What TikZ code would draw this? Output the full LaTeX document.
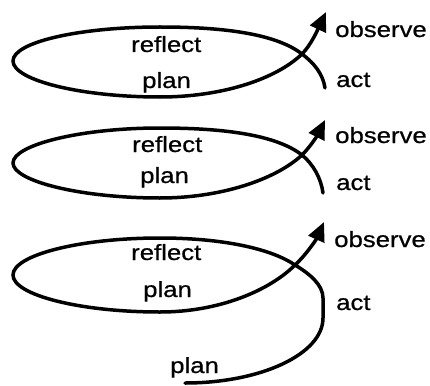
\documentclass[tikz,border=0pt]{standalone}
\usepackage{fontspec}
\setmainfont{Liberation Sans}[FakeBold=0.6]
\usepackage{graphicx}
\usetikzlibrary{arrows.meta}
\newcommand{\widetxt}[1]{\scalebox{1.17}[1]{#1}}
\begin{document}
\begin{tikzpicture}[x=1pt,y=1pt,
  lw/.style={line width=3.5pt, line cap=round},
  tip/.style={-{Triangle[length=19pt,width=17pt]}},
  lbl/.style={font=\fontsize{22}{26}\selectfont, inner sep=0pt, anchor=base west}]
\useasboundingbox (0,0) rectangle (430,-385);
% ---------- loop 1
\coordinate (a1) at (325,-88);
\coordinate (c1) at (302,-54);
\coordinate (t1) at (160,-27);
\coordinate (l1) at (13,-61);
\coordinate (b1) at (160,-97);
\coordinate (h1) at (326,-12);
\draw[lw,tip] (a1) .. controls (323,-74) and (314,-63) .. (c1)
  .. controls (275,-33) and (220,-27) .. (t1)
  .. controls (80,-27) and (13,-42) .. (l1)
  .. controls (13,-80) and (80,-97) .. (b1)
  .. controls (220,-97) and (275,-80) .. (c1)
  .. controls (311,-45) and (318,-29) .. (h1);
\node[lbl] (r1) at (131,-52) {\widetxt{reflect}};
\node[lbl] (p1) at (142,-88) {\widetxt{plan}};
\node[lbl] (o1) at (335,-37) {\widetxt{observe}};
\node[lbl] (k1) at (336,-87) {\widetxt{act}};
% ---------- loop 2
\coordinate (a2) at (323,-193);
\coordinate (c2) at (302,-155);
\coordinate (t2) at (160,-128);
\coordinate (l2) at (13,-163);
\coordinate (b2) at (160,-198);
\coordinate (h2) at (325,-120);
\draw[lw,tip] (a2) .. controls (321,-178) and (313,-164) .. (c2)
  .. controls (275,-134) and (220,-128) .. (t2)
  .. controls (80,-128) and (13,-145) .. (l2)
  .. controls (13,-181) and (80,-198) .. (b2)
  .. controls (220,-198) and (275,-180) .. (c2)
  .. controls (310,-147) and (317,-136) .. (h2);
\node[lbl] (r2) at (132,-152) {\widetxt{reflect}};
\node[lbl] (p2) at (140,-183) {\widetxt{plan}};
\node[lbl] (o2) at (335,-143) {\widetxt{observe}};
\node[lbl] (k2) at (336,-190) {\widetxt{act}};
% ---------- loop 3
\coordinate (e3) at (185,-383);
\coordinate (s3) at (323,-318);
\coordinate (r3) at (323,-298);
\coordinate (c3) at (295,-265);
\coordinate (t3) at (160,-238);
\coordinate (l3) at (13,-275);
\coordinate (b3) at (160,-312);
\coordinate (h3) at (324,-222);
\draw[lw,tip] (e3) .. controls (261,-383) and (323,-354) .. (s3) -- (r3)
  .. controls (323,-285) and (310,-274) .. (c3)
  .. controls (270,-248) and (220,-238) .. (t3)
  .. controls (80,-238) and (13,-255) .. (l3)
  .. controls (13,-295) and (80,-312) .. (b3)
  .. controls (220,-312) and (270,-290) .. (c3)
  .. controls (305,-256) and (316,-240) .. (h3);
\node[lbl] (r3t) at (131,-260) {\widetxt{reflect}};
\node[lbl] (p3) at (143,-297) {\widetxt{plan}};
\node[lbl] (o3) at (334,-247) {\widetxt{observe}};
\node[lbl] (k3) at (336,-310) {\widetxt{act}};
\node[lbl] (q3) at (170,-373) {\widetxt{plan}};
\end{tikzpicture}
\end{document}
